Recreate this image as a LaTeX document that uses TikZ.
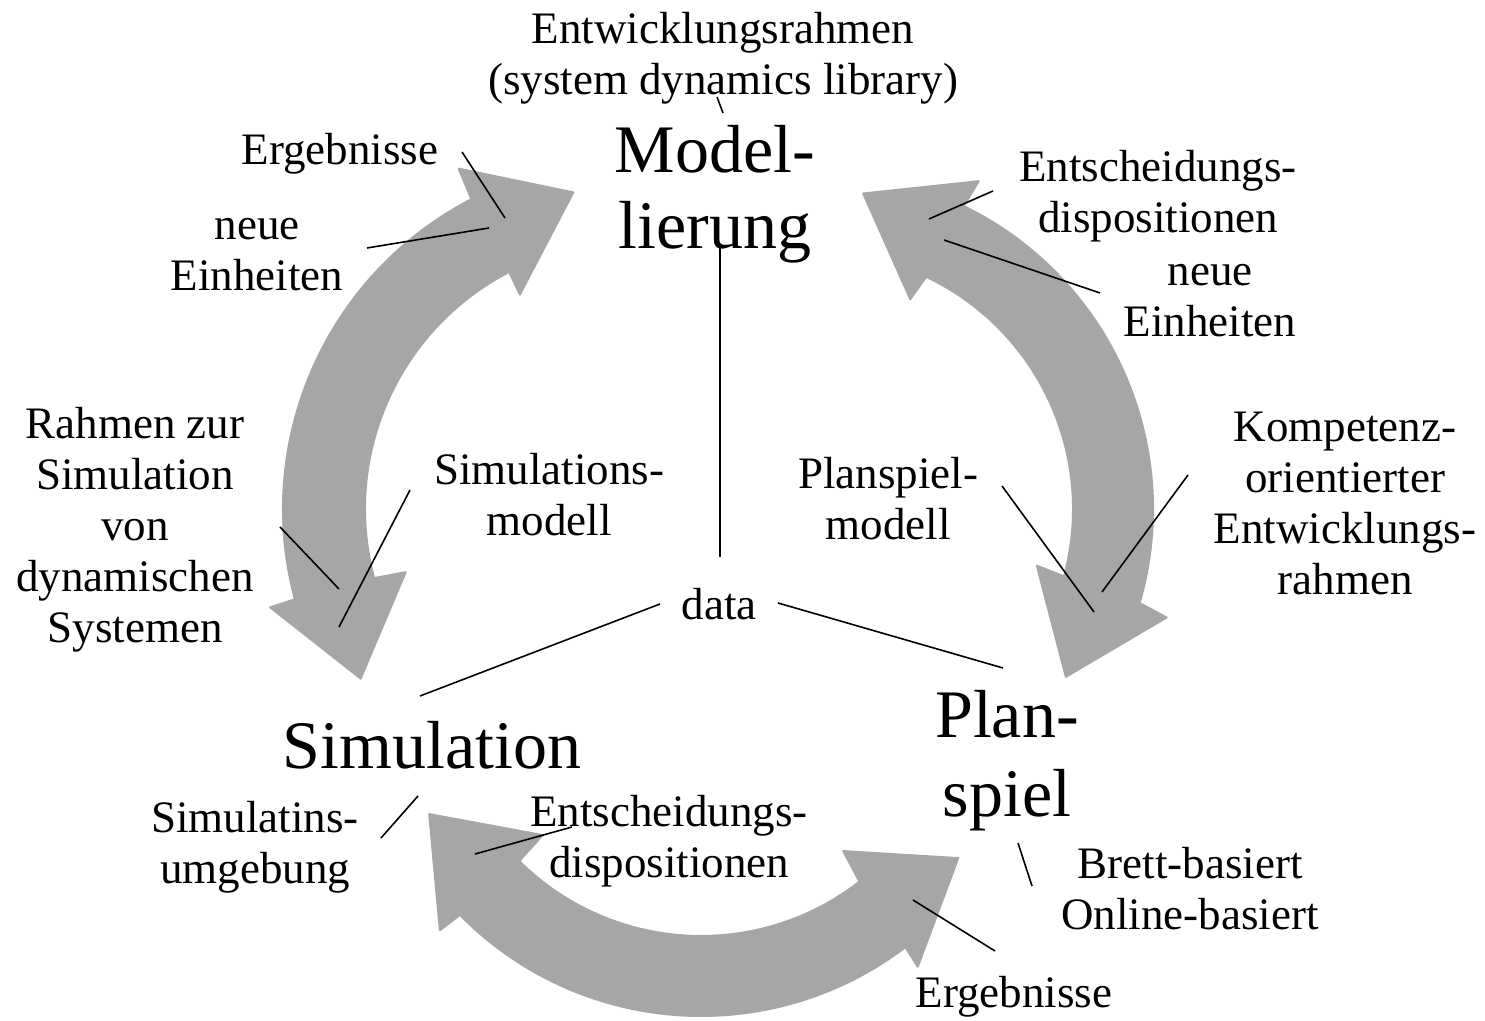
\documentclass[tikz,border=0pt]{standalone}
\usepackage{fontspec}
\setmainfont{Liberation Serif}
\definecolor{arr}{RGB}{166,166,166}
\tikzset{
  lbl/.style={font=\fontsize{45}{51}\selectfont, align=center, inner sep=0pt},
  big/.style={font=\fontsize{68}{76}\selectfont, align=center, inner sep=0pt},
  bigarrow/.style={fill=arr, draw=arr, line width=2pt, line join=round},
  conn/.style={draw=black, line width=1.6pt}
}
\begin{document}
\begin{tikzpicture}[x=1pt,y=1pt]
\useasboundingbox (0,0) rectangle (1485,1020);
\fill[white] (0,0) rectangle (1485,1020);

% left arrow
\begin{scope}[shift={(632,511)}]
\path[bigarrow] (117.4:349) arc[start angle=117.4,end angle=195,radius=349]
  -- (195.2:375) -- (212:320) -- (195.6:235) -- (195:267)
  arc[start angle=195,end angle=117.4,radius=267]
  -- (117.6:242) -- (100.5:322) -- (117:382) -- cycle;
\end{scope}
% right arrow
\begin{scope}[shift={(816,511)}]
\path[bigarrow] (64:337) arc[start angle=64,end angle=-16.2,radius=337]
  -- (-17.2:367) -- (-33.9:301) -- (-14.4:228) -- (-15.2:257)
  arc[start angle=-15.2,end angle=64.6,radius=257]
  -- (65.8:230) -- (81.5:319) -- (63.6:366) -- cycle;
\end{scope}
% bottom arrow
\begin{scope}[shift={(701,342)}]
\path[bigarrow] (224.5:338) arc[start angle=224.5,end angle=307.2,radius=338]
  -- (306.9:361) -- (325:314) -- (309.4:224) -- (307.9:258)
  arc[start angle=307.9,end angle=225.2,radius=258]
  -- (224.8:223) -- (206.6:304) -- (224:363) -- cycle;
\end{scope}

% texts
\node[lbl] (title) at (723,962) {Entwicklungsrahmen\\(system dynamics library)};
\node[big] (model) at (715,826) {Model-\\lierung};
\node[lbl] (erg1) at (340,866) {Ergebnisse};
\node[lbl] (neue1) at (257,765) {neue\\Einheiten};
\node[lbl] (ent1) at (1158,824) {Entscheidungs-\\dispositionen};
\node[lbl] (neue2) at (1210,719) {neue\\Einheiten};
\node[lbl] (rahmen) at (135,490) {Rahmen zur\\Simulation\\von\\dynamischen\\Systemen};
\node[lbl] (simmod) at (549,525) {Simulations-\\modell};
\node[lbl] (planmod) at (888,521) {Planspiel-\\modell};
\node[lbl] (komp) at (1345,517) {Kompetenz-\\orientierter\\Entwicklungs-\\rahmen};
\node[lbl] (data) at (719,416) {data};
\node[big] (sim) at (432,275) {Simulation};
\node[big, font=\fontsize{68}{79}\selectfont] (plan) at (1007,259) {Plan-\\spiel};
\node[lbl] (simumg) at (255,173) {Simulatins-\\umgebung};
\node[lbl] (ent2) at (669,179) {Entscheidungs-\\dispositionen};
\node[lbl] (brett) at (1190,131) {Brett-basiert\\Online-basiert};
\node[lbl] (erg2) at (1014,23) {Ergebnisse};

% connector end points
\coordinate (t1) at (717,923); \coordinate (t2) at (723,907);
\coordinate (m1) at (720,775); \coordinate (m2) at (720,463);
\coordinate (e1) at (462,868); \coordinate (e2) at (505,802);
\coordinate (n1) at (367,772); \coordinate (n2) at (489,792);
\coordinate (d1) at (993,829); \coordinate (d2) at (929,801);
\coordinate (r1) at (944,780); \coordinate (r2) at (1100,727);
\coordinate (s1) at (280,493); \coordinate (s2) at (339,431);
\coordinate (sm1) at (410,530); \coordinate (sm2) at (339,393);
\coordinate (p1) at (1002,534); \coordinate (p2) at (1094,408);
\coordinate (k1) at (1188,545); \coordinate (k2) at (1102,428);
\coordinate (da1) at (660,416); \coordinate (da2) at (420,324);
\coordinate (db1) at (778,417); \coordinate (db2) at (1003,352);
\coordinate (u1) at (418,224); \coordinate (u2) at (381,182);
\coordinate (b1) at (475,166); \coordinate (b2) at (572,193);
\coordinate (bb1) at (1018,177); \coordinate (bb2) at (1032,134);
\coordinate (g1) at (913,120); \coordinate (g2) at (995,69);

\draw[conn] (t1) -- (t2);
\draw[conn] (m1) -- (m2);
\draw[conn] (e1) -- (e2);
\draw[conn] (n1) -- (n2);
\draw[conn] (d1) -- (d2);
\draw[conn] (r1) -- (r2);
\draw[conn] (s1) -- (s2);
\draw[conn] (sm1) -- (sm2);
\draw[conn] (p1) -- (p2);
\draw[conn] (k1) -- (k2);
\draw[conn] (da1) -- (da2);
\draw[conn] (db1) -- (db2);
\draw[conn] (u1) -- (u2);
\draw[conn] (b1) -- (b2);
\draw[conn] (bb1) -- (bb2);
\draw[conn] (g1) -- (g2);
\end{tikzpicture}
\end{document}
